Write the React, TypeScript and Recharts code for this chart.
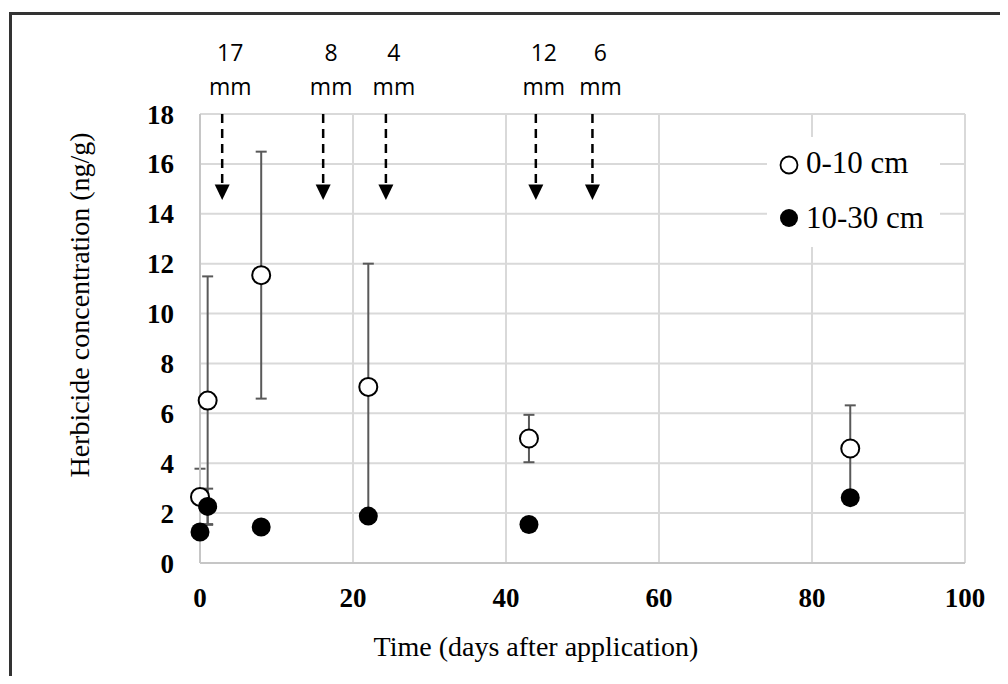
import React from 'react';
import {
  ScatterChart,
  Scatter,
  XAxis,
  YAxis,
  CartesianGrid,
  ErrorBar,
  ReferenceLine,
  ReferenceDot,
  Legend,
  Label,
} from 'recharts';

// ---- data ----
const days = [0, 1, 8, 22, 43, 85];
const shallowConc = [2.65, 6.51, 11.54, 7.06, 4.99, 4.59];
const shallowErr = [1.13, 4.98, 4.95, 4.94, 0.95, 1.73];
const deepConc = [1.24, 2.27, 1.44, 1.88, 1.54, 2.62];
const deepErr = [0.1, 0.71, 0.1, 0.15, 0.1, 0.25];
const rainDays = [2.9, 16.1, 24.3, 43.9, 51.3];
const rainMm = [17, 8, 4, 12, 6];
const xTicks = [0, 20, 40, 60, 80, 100];
const yTicks = [0, 2, 4, 6, 8, 10, 12, 14, 16, 18];
const seriesNames = ['0-10 cm', '10-30 cm'];

const shallowData = days.map((d, i) => ({ x: d, y: shallowConc[i], err: shallowErr[i] }));
const deepData = days.map((d, i) => ({ x: d, y: deepConc[i], err: deepErr[i] }));

const SERIF = '"Liberation Serif", "Times New Roman", serif';
const SANS = '"Open Sans", "Liberation Sans", sans-serif';
const ARROW_TOP = 18;
const ARROW_BASE = 15.17;

const OpenCircle = (props: any) => (
  <circle cx={props.cx} cy={props.cy} r={9} fill="#fff" stroke="#000" strokeWidth={2} />
);
const FilledCircle = (props: any) => (
  <circle cx={props.cx} cy={props.cy} r={9.5} fill="#000" stroke="#000" strokeWidth={0} />
);

const ArrowHead = (props: any) => {
  const { cx, cy } = props;
  return <path d={`M${cx - 7.5},${cy} L${cx + 7.5},${cy} L${cx},${cy + 15.5} Z`} fill="#000" />;
};

const makeRainLabel = (mm: number) => (props: any) => {
  const { cx, cy } = props;
  return (
    <g>
      <text x={cx + 8} y={cy - 53} textAnchor="middle" fontFamily={SANS} fontSize={23} fill="#000">
        {mm}
      </text>
      <text x={cx + 8} y={cy - 19} textAnchor="middle" fontFamily={SANS} fontSize={23} fill="#000">
        mm
      </text>
    </g>
  );
};

const LegendBox = () => (
  <svg width={173} height={110} style={{ display: 'block', background: '#fff' }}>
    <circle cx={22} cy={28} r={8.5} fill="#fff" stroke="#000" strokeWidth={1.8} />
    <text x={39} y={36} fontFamily={SERIF} fontSize={31} fill="#000">
      {seriesNames[0]}
    </text>
    <circle cx={22} cy={81} r={9} fill="#000" />
    <text x={39} y={91} fontFamily={SERIF} fontSize={31} fill="#000">
      {seriesNames[1]}
    </text>
  </svg>
);

export default function App() {
  return (
    <div
      style={{
        position: 'relative',
        width: 1008,
        height: 684,
        margin: -8,
        overflow: 'hidden',
        background: '#fff',
      }}
    >
      <div
        style={{
          position: 'absolute',
          left: 9,
          top: 12,
          width: 1100,
          height: 800,
          borderTop: '3px solid #333',
          borderLeft: '3px solid #333',
        }}
      />
      <div style={{ position: 'absolute', left: 0, top: 0 }}>
        <ScatterChart width={1008} height={684} margin={{ top: 114, right: 43, bottom: 61, left: 0 }}>
          <CartesianGrid stroke="#d9d9d9" strokeWidth={2} />
          <XAxis
            type="number"
            dataKey="x"
            domain={[0, 100]}
            ticks={xTicks}
            height={60}
            tickSize={0}
            tickMargin={25}
            axisLine={{ stroke: '#c6c6c6', strokeWidth: 2 }}
            tick={{ fontFamily: SERIF, fontSize: 27, fontWeight: 'bold', fill: '#000' }}
            interval={0}
          >
            <Label
              content={() => (
                <text x={536} y={656} textAnchor="middle" fontFamily={SERIF} fontSize={28} fill="#000">
                  Time (days after application)
                </text>
              )}
            />
          </XAxis>
          <YAxis
            type="number"
            dataKey="y"
            domain={[0, 18]}
            ticks={yTicks}
            width={200}
            tickSize={0}
            tickMargin={26}
            axisLine={{ stroke: '#c6c6c6', strokeWidth: 2 }}
            tick={{ fontFamily: SERIF, fontSize: 27, fontWeight: 'bold', fill: '#000' }}
            interval={0}
          >
            <Label
              content={() => (
                <text
                  transform="translate(89,305) rotate(-90)"
                  textAnchor="middle"
                  fontFamily={SERIF}
                  fontSize={28}
                  fill="#000"
                >
                  Herbicide concentration (ng/g)
                </text>
              )}
            />
          </YAxis>
          <Legend
            layout="horizontal"
            verticalAlign="middle"
            align="center"
            wrapperStyle={{ position: 'absolute', left: 767, top: 137, width: 173, height: 110 }}
            content={() => <LegendBox />}
          />
          {rainDays.map((d, i) => (
            <ReferenceLine
              key={`rl${i}`}
              segment={[
                { x: d, y: ARROW_TOP },
                { x: d, y: ARROW_BASE },
              ]}
              stroke="#000"
              strokeWidth={2.5}
              strokeDasharray="9 6"
            />
          ))}
          {rainDays.map((d, i) => (
            <ReferenceDot key={`ah${i}`} x={d} y={ARROW_BASE} shape={ArrowHead} />
          ))}
          {rainDays.map((d, i) => (
            <ReferenceDot key={`lb${i}`} x={d} y={ARROW_TOP} shape={makeRainLabel(rainMm[i])} />
          ))}
          <Scatter
            name={seriesNames[0]}
            data={shallowData}
            shape={OpenCircle}
            isAnimationActive={false}
          >
            <ErrorBar dataKey="err" direction="y" width={5.5} stroke="#595959" strokeWidth={2} />
          </Scatter>
          <Scatter
            name={seriesNames[1]}
            data={deepData}
            shape={FilledCircle}
            isAnimationActive={false}
          >
            <ErrorBar dataKey="err" direction="y" width={5.5} stroke="#595959" strokeWidth={2} />
          </Scatter>
        </ScatterChart>
      </div>
    </div>
  );
}
